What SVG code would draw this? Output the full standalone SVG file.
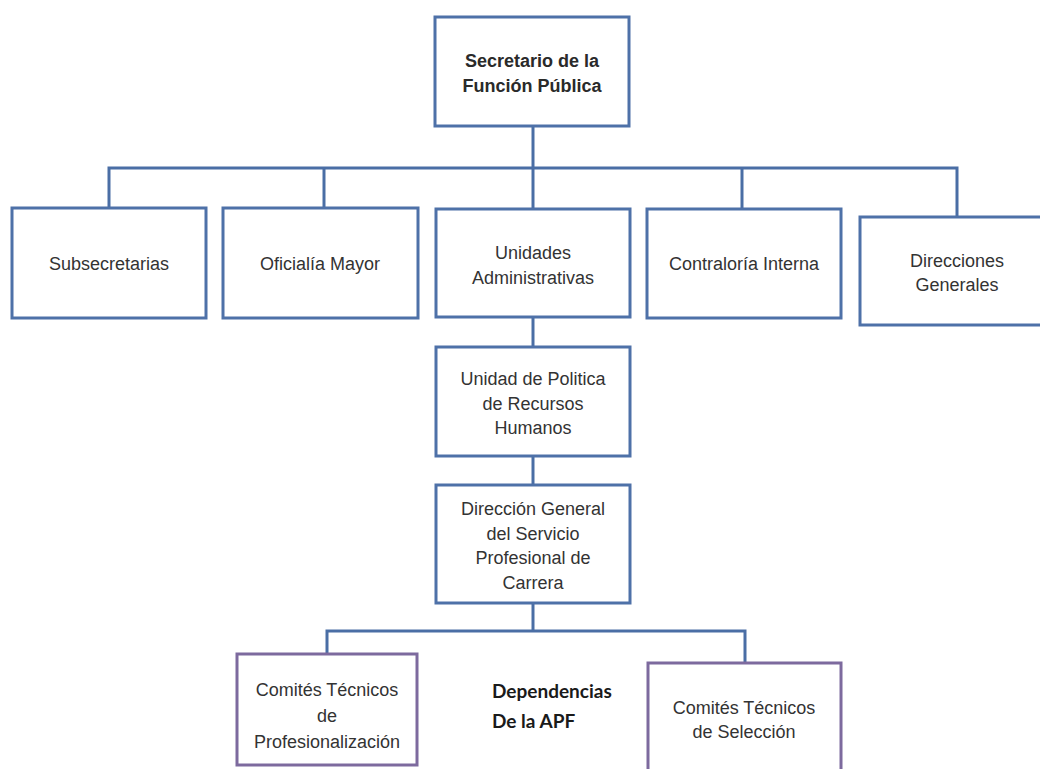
<svg xmlns="http://www.w3.org/2000/svg" width="1040" height="769" viewBox="0 0 1040 769">
<style>
.box{fill:#ffffff;stroke:#4e71a8;stroke-width:3}
.pbox{fill:#ffffff;stroke:#7d6a9e;stroke-width:3}
.t{font-family:"Liberation Sans",Arial,sans-serif;font-size:18px;fill:#333333;text-anchor:middle}
.tb{font-family:"Liberation Sans",Arial,sans-serif;font-size:18px;font-weight:bold;fill:#2a2a2a;text-anchor:middle}
.lbl{font-family:Lato,"Open Sans",sans-serif;font-size:19px;font-weight:bold;fill:#1a1a1a}
.c{fill:none;stroke:#4a6ea5;stroke-width:3}
</style>
<rect width="1040" height="769" fill="#ffffff"/>
<g id="connectors">
<path class="c" d="M533 126 V208"/>
<path class="c" d="M109 208 V168 H957 V217"/>
<path class="c" d="M324 168 V208"/>
<path class="c" d="M742 168 V209"/>
<path class="c" d="M533 317 V347"/>
<path class="c" d="M533 456 V485"/>
<path class="c" d="M533 603 V631"/>
<path class="c" d="M327 654 V631 H745 V663"/>
</g>
<g id="secretario">
<rect class="box" x="435" y="17" width="194" height="109"/>
<text class="tb" x="532" y="67">Secretario de la</text>
<text class="tb" x="532" y="92">Función Pública</text>
</g>
<g id="subsecretarias">
<rect class="box" x="12" y="208" width="194" height="110"/>
<text class="t" x="109" y="270">Subsecretarias</text>
</g>
<g id="oficialia">
<rect class="box" x="223" y="208" width="195" height="110"/>
<text class="t" x="320" y="270">Oficialía Mayor</text>
</g>
<g id="unidades">
<rect class="box" x="436" y="209" width="194" height="108"/>
<text class="t" x="533" y="259">Unidades</text>
<text class="t" x="533" y="284">Administrativas</text>
</g>
<g id="contraloria">
<rect class="box" x="647" y="209" width="194" height="109"/>
<text class="t" x="744" y="270">Contraloría Interna</text>
</g>
<g id="direcciones">
<rect class="box" x="860" y="217" width="195" height="108"/>
<text class="t" x="957" y="267">Direcciones</text>
<text class="t" x="957" y="291">Generales</text>
</g>
<g id="unidad-politica">
<rect class="box" x="436" y="347" width="194" height="109"/>
<text class="t" x="533" y="385">Unidad de Politica</text>
<text class="t" x="533" y="410">de Recursos</text>
<text class="t" x="533" y="434">Humanos</text>
</g>
<g id="direccion-general">
<rect class="box" x="436" y="485" width="194" height="118"/>
<text class="t" x="533" y="515">Dirección General</text>
<text class="t" x="533" y="540">del Servicio</text>
<text class="t" x="533" y="564">Profesional de</text>
<text class="t" x="533" y="589">Carrera</text>
</g>
<g id="comites-profesionalizacion">
<rect class="pbox" x="237" y="654" width="180" height="111"/>
<text class="t" x="327" y="696">Comités Técnicos</text>
<text class="t" x="327" y="722">de</text>
<text class="t" x="327" y="748">Profesionalización</text>
</g>
<g id="dependencias">
<text class="lbl" x="492" y="698">Dependencias</text>
<text class="lbl" x="492" y="728">De la APF</text>
</g>
<g id="comites-seleccion">
<rect class="pbox" x="648" y="663" width="193" height="110"/>
<text class="t" x="744" y="714">Comités Técnicos</text>
<text class="t" x="744" y="738">de Selección</text>
</g>
</svg>
